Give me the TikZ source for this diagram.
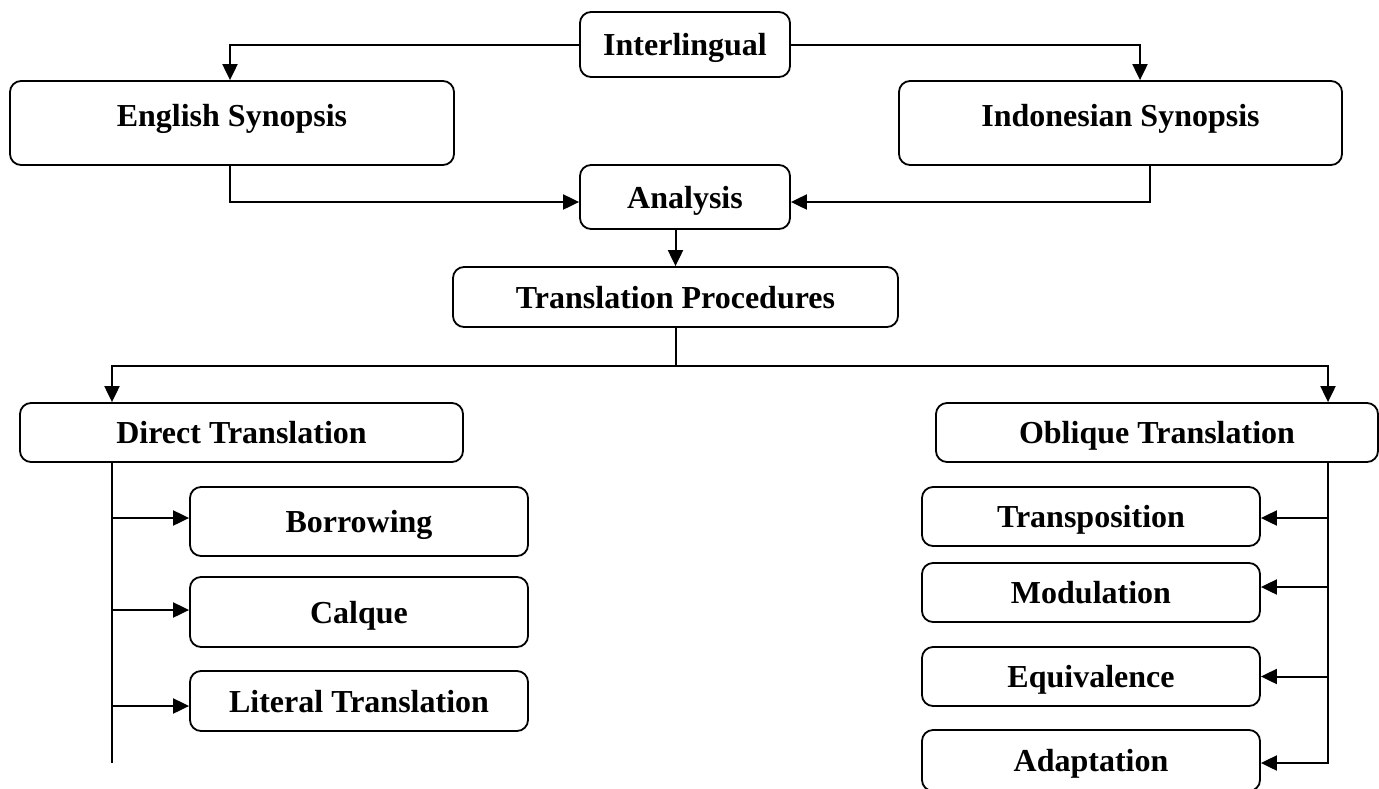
\documentclass[tikz,border=0pt]{standalone}
\usepackage{fontspec}
\setmainfont{Liberation Serif}
\usetikzlibrary{arrows.meta,calc}
\tikzset{
  box/.style={draw=black, line width=1.8pt, rounded corners=11pt, inner sep=0pt,
    font=\fontsize{32}{38}\selectfont\bfseries, text height=22pt, text depth=0pt, align=center},
  highbox/.style={box, text depth=16pt},
  conn/.style={line width=2pt, draw=black},
  arr/.style={conn, -{Triangle[length=16pt,width=15pt]}}
}
\begin{document}
\begin{tikzpicture}[x=1pt,y=-1pt]
\useasboundingbox (0,0) rectangle (1379,788);
\fill[white] (0,0) rectangle (1379,788);
% nodes
\node[box, minimum width=210pt, minimum height=65pt] (inter) at (685,44.5) {Interlingual};
\node[highbox, minimum width=444pt, minimum height=84pt] (eng) at (232,123) {English Synopsis};
\node[highbox, minimum width=443pt, minimum height=84pt] (ind) at (1120.5,123) {Indonesian Synopsis};
\node[box, minimum width=210pt, minimum height=64pt] (ana) at (685,197) {Analysis};
\node[box, minimum width=445pt, minimum height=60pt] (tp) at (675.5,297) {Translation Procedures};
\node[box, minimum width=443pt, minimum height=59pt] (dir) at (241.5,432.5) {Direct Translation};
\node[box, minimum width=442pt, minimum height=59pt] (obl) at (1157,432.5) {Oblique Translation};
\node[box, minimum width=338pt, minimum height=69pt] (bor) at (359,521.5) {Borrowing};
\node[box, minimum width=338pt, minimum height=70pt] (cal) at (359,612) {Calque};
\node[box, minimum width=338pt, minimum height=60pt] (lit) at (359,701) {Literal Translation};
\node[box, minimum width=338pt, minimum height=59pt] (trn) at (1091,516.5) {Transposition};
\node[box, minimum width=338pt, minimum height=59pt] (mod) at (1091,592.5) {Modulation};
\node[box, minimum width=338pt, minimum height=59pt] (equ) at (1091,676.5) {Equivalence};
\node[box, minimum width=338pt, minimum height=61pt] (ada) at (1091,760.5) {Adaptation};
% coordinates
\coordinate (split) at ($(tp.south)+(0,-38pt)$);
\coordinate (dtop) at ([xshift=-129.5pt]dir.north);
\coordinate (dbot) at ([xshift=-129.5pt]dir.south);
\coordinate (otop) at ([xshift=171pt]obl.north);
\coordinate (obot) at ([xshift=171pt]obl.south);
\coordinate (lend) at (112,763);
% top connectors
\draw[arr] (inter.west) -| ([xshift=-2pt]eng.north);
\draw[arr] (inter.east) -| ([xshift=19.5pt]ind.north);
\draw[arr] ([xshift=-2pt]eng.south) |- ([yshift=-5pt]ana.west);
\draw[arr] ([xshift=29.5pt]ind.south) |- ([yshift=-5pt]ana.east);
\draw[arr] (ana.south -| tp.north) -- (tp.north);
\draw[conn] (tp.south) -- (split);
\draw[arr] (split) -| (dtop);
\draw[arr] (split) -| (otop);
% left trunk
\draw[conn] (dbot) -- (lend);
\draw[arr] ([yshift=3.5pt]bor.west -| dbot) -- ([yshift=3.5pt]bor.west);
\draw[arr] ([yshift=2pt]cal.west -| dbot) -- ([yshift=2pt]cal.west);
\draw[arr] ([yshift=-5pt]lit.west -| dbot) -- ([yshift=-5pt]lit.west);
% right trunk
\draw[arr] (obot) |- ([yshift=-2.5pt]ada.east);
\draw[arr] ([yshift=-1.5pt]trn.east -| obot) -- ([yshift=-1.5pt]trn.east);
\draw[arr] ([yshift=5.5pt]mod.east -| obot) -- ([yshift=5.5pt]mod.east);
\draw[arr] (equ.east -| obot) -- (equ.east);
\end{tikzpicture}
\end{document}
